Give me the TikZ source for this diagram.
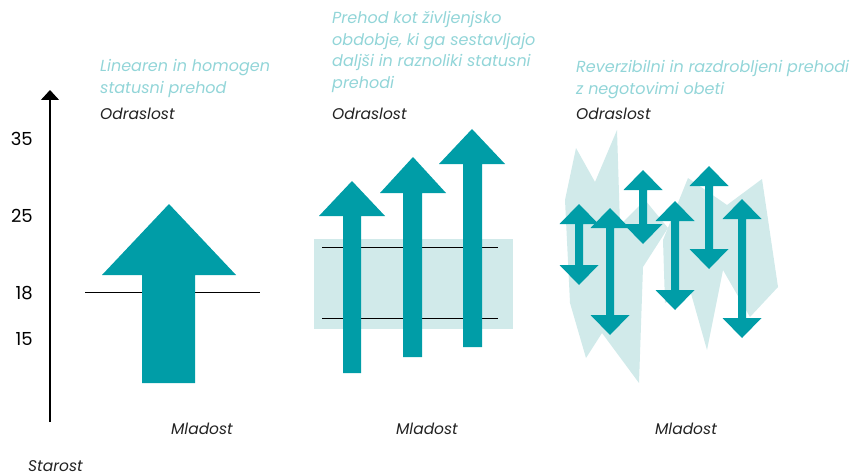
\documentclass[tikz,border=0pt]{standalone}
\usepackage{fontspec}
\setmainfont{Poppins}
\usetikzlibrary{arrows.meta}
\definecolor{arrowteal}{RGB}{0,157,167}
\definecolor{paleteal}{RGB}{209,234,234}
\definecolor{captionteal}{RGB}{146,213,216}
\definecolor{labelgray}{RGB}{35,35,35}

\begin{document}
\begin{tikzpicture}[x=1pt, y=-1pt,
    caption/.style={text=captionteal, font=\fontsize{16}{22.5}\selectfont\itshape, align=left, anchor=north west, inner sep=0pt},
    stage/.style={text=labelgray, font=\fontsize{15.5}{20}\selectfont\itshape, inner sep=0pt},
    tick/.style={font=\fontsize{18}{22}\selectfont, anchor=base east, inner sep=0pt}]
        \useasboundingbox (0,0) rectangle (856,476);

        % age axis
        \coordinate (axisfoot) at (50,422);
        \coordinate (axistip) at (50,90);
        \draw[black, line width=1.2pt, -{Triangle[width=18pt,length=10pt]}] (axisfoot) -- (axistip);
        \node[tick] (t35) at (33,146) {35};
        \node[tick] (t25) at (33,222) {25};
        \node[tick] (t18) at (33,299) {18};
        \node[tick] (t15) at (33,345) {15};
        \node[stage, anchor=base west] (starost) at (28,471) {Starost};

        % panel 1
        \node[caption] (cap1) at (100,59) {Linearen in homogen\\statusni prehod};
        \node[stage, anchor=base west] (odr1) at (100,120) {Odraslost};
        \node[stage, anchor=base] (mla1) at (202,434) {Mladost};
        \draw[black, line width=0.9pt] (85,292) -- (260,292);
        \fill[arrowteal] (169,204) -- (236,275) -- (195,275) -- (195,383) -- (142,383) -- (142,275) -- (102,275) -- cycle;

        % panel 2
        \node[caption, font=\fontsize{16}{21.7}\selectfont\itshape] (cap2) at (332,11) {Prehod kot življenjsko\\obdobje, ki ga sestavljajo\\daljši in raznoliki statusni\\prehodi};
        \node[stage, anchor=base west] (odr2) at (332,120) {Odraslost};
        \node[stage, anchor=base] (mla2) at (427,434) {Mladost};
        \fill[paleteal] (314,239) rectangle (513,329);
        \draw[black, line width=0.9pt] (322,247) -- (498,247);
        \draw[black, line width=0.9pt] (322,318) -- (498,318);
        \fill[arrowteal] (352,181) -- (385,216) -- (361,216) -- (361,373) -- (343,373) -- (343,216) -- (319,216) -- cycle;
        \fill[arrowteal] (413,157) -- (446,193) -- (422,193) -- (422,357) -- (403,357) -- (403,193) -- (380,193) -- cycle;
        \fill[arrowteal] (472,129) -- (505,164) -- (482,164) -- (482,347) -- (463,347) -- (463,164) -- (439,164) -- cycle;

        % panel 3
        \node[caption] (cap3) at (576,60) {Reverzibilni in razdrobljeni prehodi\\z negotovimi obeti};
        \node[stage, anchor=base west] (odr3) at (576,120) {Odraslost};
        \node[stage, anchor=base] (mla3) at (686,434) {Mladost};
        \fill[paleteal] (565,200) -- (576,148) -- (595,182) -- (617,130) -- (620,225) -- (645,200) -- (668,228) -- (643,267) -- (639,383) -- (602,333) -- (586,358) -- (570,303) -- cycle;
        \fill[paleteal] (663,240) -- (688,178) -- (727,205) -- (762,179) -- (778,287) -- (750,317) -- (723,270) -- (707,350) -- (690,290) -- (665,303) -- cycle;
        \fill[arrowteal] (579,204) -- (598.5,224) -- (583,224) -- (583,265) -- (598.5,265) -- (579,285) -- (559.5,265) -- (575,265) -- (575,224) -- (559.5,224) -- cycle;
        \fill[arrowteal] (610,208) -- (629.5,228) -- (614,228) -- (614,315) -- (629.5,315) -- (610,335) -- (590.5,315) -- (606,315) -- (606,228) -- (590.5,228) -- cycle;
        \fill[arrowteal] (643,170) -- (662.5,190) -- (647,190) -- (647,224) -- (662.5,224) -- (643,244) -- (623.5,224) -- (639,224) -- (639,190) -- (623.5,190) -- cycle;
        \fill[arrowteal] (675,201) -- (694.5,221) -- (679,221) -- (679,290) -- (694.5,290) -- (675,310) -- (655.5,290) -- (671,290) -- (671,221) -- (655.5,221) -- cycle;
        \fill[arrowteal] (709,166) -- (728.5,186) -- (713,186) -- (713,249) -- (728.5,249) -- (709,269) -- (689.5,249) -- (705,249) -- (705,186) -- (689.5,186) -- cycle;
        \fill[arrowteal] (742,199) -- (761.5,219) -- (746,219) -- (746,318) -- (761.5,318) -- (742,338) -- (722.5,318) -- (738,318) -- (738,219) -- (722.5,219) -- cycle;
    \end{tikzpicture}
\end{document}
